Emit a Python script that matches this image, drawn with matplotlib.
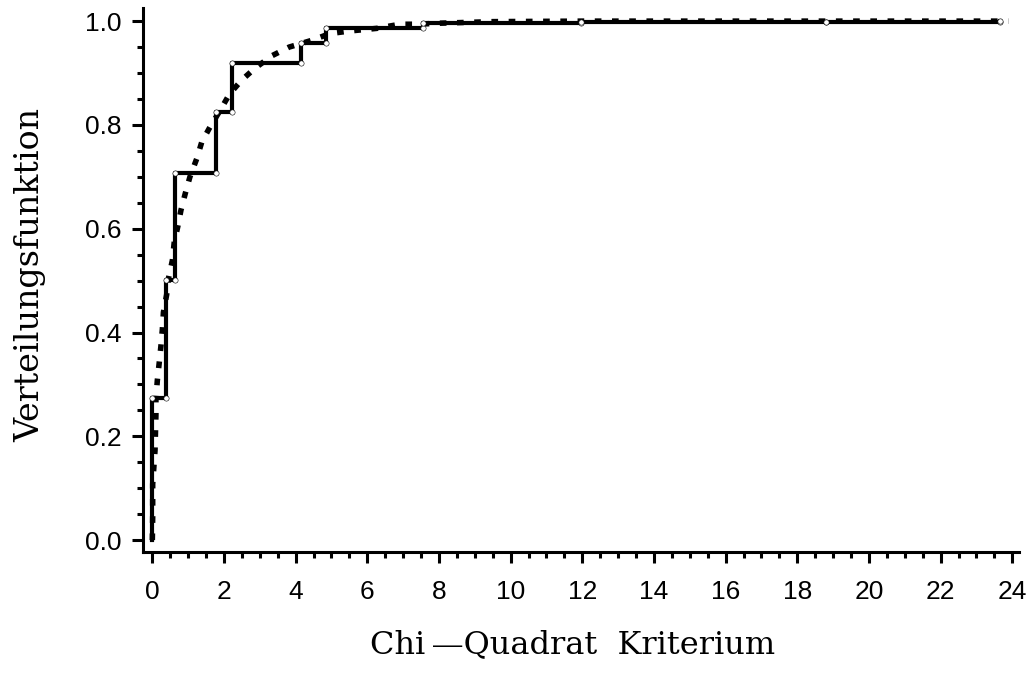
import matplotlib
matplotlib.use("Agg")
import matplotlib.pyplot as plt
from matplotlib.ticker import MultipleLocator, FormatStrFormatter

# Empirical distribution function (step) : jump positions and levels
step_x = [0.0, 0.39, 0.63, 1.79, 2.22, 4.16, 4.86, 7.55, 11.95, 18.8, 23.65]
step_y = [0.273, 0.502, 0.708, 0.825, 0.919, 0.958, 0.987, 0.996, 0.998, 0.999, 1.0]

# Theoretical distribution function (dashed)
curve_x = [0.0, 0.01, 0.01, 0.075, 0.10, 0.10, 0.14, 0.19, 0.24, 0.28, 0.31, 0.40,
           0.45, 0.56, 0.61, 0.71, 0.80, 0.92, 1.05, 1.24, 1.38, 1.61, 1.91, 2.15,
           2.49, 2.86, 3.33, 3.82, 4.45, 4.96, 5.51, 6.26, 6.91, 7.37, 8.02, 9.5,
           12.0, 16.0, 20.0, 23.89]
curve_y = [0.0, 0.045, 0.108, 0.173, 0.241, 0.271, 0.308, 0.340, 0.374, 0.406, 0.439, 0.473,
           0.504, 0.539, 0.573, 0.604, 0.636, 0.668, 0.700, 0.735, 0.767, 0.796, 0.830, 0.859,
           0.886, 0.909, 0.933, 0.950, 0.963, 0.976, 0.981, 0.986, 0.994, 0.994, 0.996, 0.999,
           1.0, 1.0, 1.0, 1.0]

x_ticks = list(range(0, 25, 2))
y_ticks = [0.0, 0.2, 0.4, 0.6, 0.8, 1.0]

fig = plt.figure(figsize=(10.29, 6.79), dpi=100)
ax = fig.add_axes([0.1387, 0.187, 0.852, 0.801])

# build step vertices (vertical jump, then horizontal to next jump)
sx, sy = [0.0], [0.0]
for i, (x, y) in enumerate(zip(step_x, step_y)):
    if i > 0:
        sx.append(x); sy.append(step_y[i - 1])
    sx.append(x); sy.append(y)

ax.plot(curve_x, curve_y, color="black", lw=4.0, linestyle=(0, (1.2, 1.9)),
        dash_capstyle="butt", zorder=2)
ax.plot(sx, sy, color="black", lw=3.0, zorder=3)
ax.plot(sx[1:], sy[1:], linestyle="none", marker="o", ms=3.8, mfc="white",
        mec="black", mew=0.4, zorder=4)

ax.set_xlim(-0.268, 24.2)
ax.set_ylim(-0.023, 1.025)

for s in ["top", "right"]:
    ax.spines[s].set_visible(False)
for s in ["left", "bottom"]:
    ax.spines[s].set_linewidth(2.2)

ax.set_xticks(x_ticks)
ax.set_yticks(y_ticks)
ax.yaxis.set_major_formatter(FormatStrFormatter("%.1f"))
ax.xaxis.set_minor_locator(MultipleLocator(0.5))
ax.yaxis.set_minor_locator(MultipleLocator(0.05))
ax.tick_params(which="major", length=8, width=2.2, direction="out")
ax.tick_params(which="minor", length=4.3, width=2.2, direction="out")
ax.tick_params(axis="x", which="major", pad=12)
ax.tick_params(axis="y", which="major", pad=7)
for lab in ax.get_xticklabels() + ax.get_yticklabels():
    lab.set_fontfamily("Liberation Sans")
    lab.set_fontsize(19)

fig.text(0.556, 0.028, "Chi\u2009\u2014Quadrat  Kriterium", ha="center", va="bottom",
         family="DejaVu Serif", fontsize=23)
fig.text(0.029, 0.595, "Verteilungsfunktion", ha="center", va="center", rotation=90,
         family="DejaVu Serif", fontsize=24)

fig.savefig("out.png", dpi=100)
